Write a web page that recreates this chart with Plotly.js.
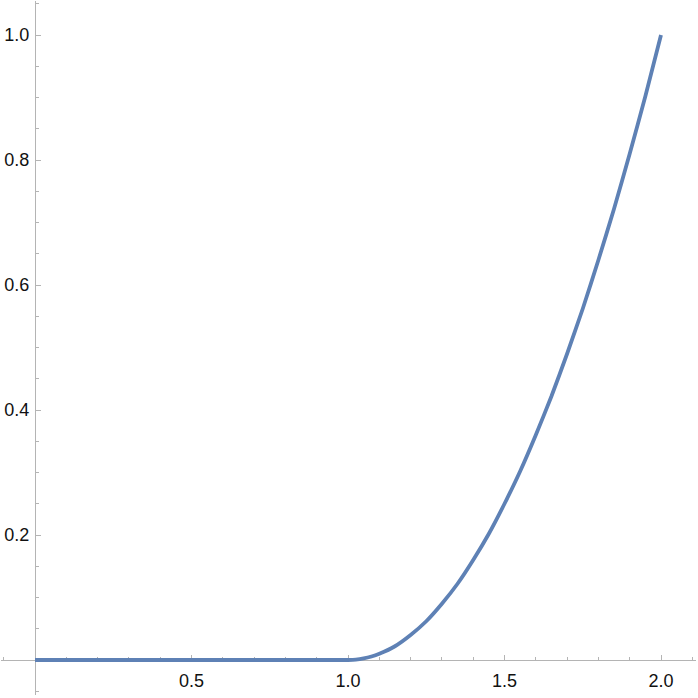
<!DOCTYPE html>
<html>
<head>
<meta charset="utf-8">
<script src="https://cdn.plot.ly/plotly-3.0.1.min.js"></script>
<style>html,body{margin:0;padding:0;background:#fff;}#chart{width:698px;height:698px;}</style>
</head>
<body>
<div id="chart"></div>
<script>
const xValues = [0, 0.5, 0.9, 0.95, 1.0, 1.025, 1.05, 1.075, 1.1, 1.15, 1.2, 1.25, 1.3, 1.35, 1.4, 1.45, 1.5, 1.55, 1.6, 1.65, 1.7, 1.75, 1.8, 1.85, 1.9, 1.95, 2.0];
const yValues = [0, 0, 0, 0, 0, 0.0006, 0.0025, 0.0056, 0.010, 0.022, 0.040, 0.062, 0.090, 0.122, 0.160, 0.202, 0.250, 0.302, 0.360, 0.422, 0.490, 0.562, 0.640, 0.722, 0.810, 0.902, 1.0];
const xTickVals = [0.5, 1.0, 1.5, 2.0];
const xTickText = ["0.5", "1.0", "1.5", "2.0"];
const yTickVals = [0.2, 0.4, 0.6, 0.8, 1.0];
const yTickText = ["0.2", "0.4", "0.6", "0.8", "1.0"];

const axisColor = '#b4b4b4';
const trace = {
  x: xValues, y: yValues, type: 'scatter', mode: 'lines',
  line: {color: '#5e81b5', width: 3.8, shape: 'spline', smoothing: 0.5},
  hoverinfo: 'none', cliponaxis: false
};
const layout = {
  width: 698, height: 698,
  margin: {l: 1, r: 2, t: 1, b: 3, pad: 0},
  paper_bgcolor: '#fff', plot_bgcolor: '#fff',
  showlegend: false,
  font: {family: 'Liberation Sans, Arial, sans-serif', size: 18, color: '#111'},
  xaxis: {
    range: [-0.10863, 2.11182], showgrid: false, zeroline: false,
    showline: true, linecolor: axisColor, linewidth: 1.2, layer: 'below traces',
    anchor: 'free', position: 0.05043,
    tickmode: 'array', tickvals: xTickVals, ticktext: xTickText,
    ticks: 'inside', ticklen: 5, tickcolor: axisColor, tickwidth: 1,
    ticklabelstandoff: 4,
    minor: {tickmode: 'linear', tick0: 0, dtick: 0.1, ticks: 'inside', ticklen: 3, tickcolor: axisColor, tickwidth: 1, showgrid: false}
  },
  yaxis: {
    range: [-0.056, 1.0544], showgrid: false, zeroline: false,
    showline: true, linecolor: axisColor, linewidth: 1.2, layer: 'below traces',
    anchor: 'free', position: 0.04892,
    tickmode: 'array', tickvals: yTickVals, ticktext: yTickText,
    ticks: 'inside', ticklen: 5, tickcolor: axisColor, tickwidth: 1,
    ticklabelstandoff: 2,
    minor: {tickmode: 'linear', tick0: 0, dtick: 0.05, ticks: 'inside', ticklen: 3, tickcolor: axisColor, tickwidth: 1, showgrid: false}
  }
};
Plotly.newPlot('chart', [trace], layout, {staticPlot: true, displayModeBar: false});
</script>
</body>
</html>
